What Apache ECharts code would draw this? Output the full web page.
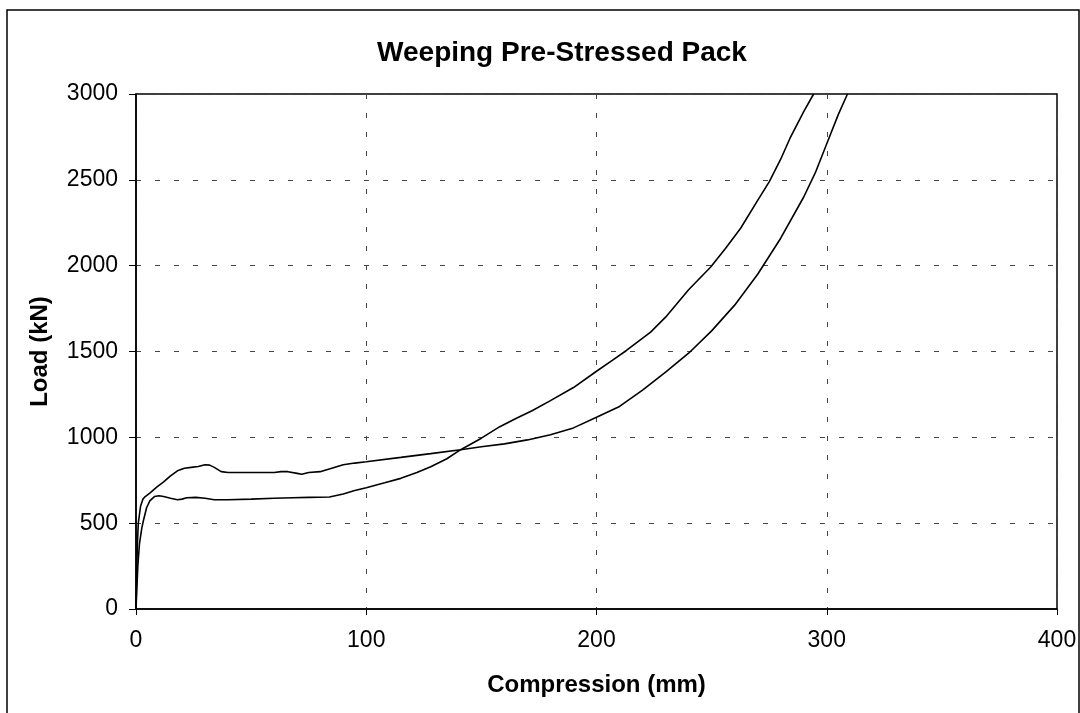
<!DOCTYPE html>
<html>
<head>
<meta charset="utf-8">
<script src="https://cdn.jsdelivr.net/npm/echarts@6/dist/echarts.min.js"></script>
<style>
html,body{margin:0;padding:0;background:#fff;}
#chart{width:1080px;height:713px;}
</style>
</head>
<body>
<div id="chart"></div>
<script>
// Curve A (higher early plateau, reaches 3000 kN near 309 mm)
const compA = [0, 0.3, 0.6, 1, 2, 3, 4, 6, 9, 12, 15, 18, 21, 24, 27, 30, 32, 34, 37, 40, 45, 50, 55, 60, 63, 66, 70, 72, 75, 80, 85, 90, 95, 100, 115, 128, 141, 150, 160, 170, 180, 190, 200, 210, 220, 230, 240, 250, 260, 270, 280, 290, 295, 300, 305, 309];
const loadA = [0, 200, 380, 500, 600, 640, 655, 675, 710, 740, 775, 805, 820, 825, 830, 840, 838, 825, 800, 795, 795, 795, 795, 795, 800, 800, 790, 785, 795, 800, 820, 840, 850, 858, 883, 905, 928, 945, 962, 985, 1015, 1055, 1117, 1180, 1275, 1380, 1490, 1620, 1770, 1950, 2160, 2400, 2540, 2710, 2880, 3000];

// Curve B (lower early plateau, reaches 3000 kN near 294 mm)
const compB = [0, 0.3, 0.8, 1.5, 2.5, 3.2, 4.6, 6, 8, 10, 12, 15, 18, 20, 22, 26, 30, 34, 40, 50, 60, 68, 75, 84, 90, 95, 100, 108, 115, 122, 128, 135, 141, 150, 158, 165, 172, 180, 190, 200, 207, 213, 223.5, 230, 240, 249.6, 256, 262.6, 270, 275, 280, 284, 290, 294.3];
const loadB = [0, 100, 250, 380, 470, 514, 590, 630, 655, 660, 655, 645, 636, 640, 648, 650, 645, 636, 636, 640, 645, 648, 650, 652, 670, 690, 706, 735, 761, 795, 829, 875, 928, 995, 1062, 1110, 1155, 1214, 1290, 1385, 1450, 1506, 1613, 1700, 1860, 1992, 2100, 2218, 2380, 2488, 2620, 2741, 2897, 3000];

const titleText = 'Weeping Pre-Stressed Pack';
const xName = 'Compression (mm)';
const yName = 'Load (kN)';

const pairs = (xs, ys) => xs.map((x, i) => [x, ys[i]]);
const FONT = '"Liberation Sans", Arial, sans-serif';
const gridLine = {show: true, lineStyle: {color: '#444', type: [5, 14], width: 1}};

const chart = echarts.init(document.getElementById('chart'), null, {renderer: 'canvas'});
chart.setOption({
  animation: false,
  backgroundColor: '#fff',
  title: {
    text: titleText, left: 557, top: 34, textAlign: 'center',
    textStyle: {fontFamily: FONT, fontSize: 28, fontWeight: 'bold', color: '#000'}
  },
  graphic: [{
    type: 'rect', shape: {x: 7, y: 10, width: 1072, height: 720},
    style: {fill: 'none', stroke: '#000', lineWidth: 1.5}, silent: true
  }],
  grid: {left: 136, right: 23, top: 94, bottom: 104, show: true, borderColor: '#000', borderWidth: 1.5, backgroundColor: 'transparent'},
  xAxis: {
    type: 'value', min: 0, max: 400, interval: 100,
    name: xName, nameLocation: 'middle', nameGap: 64,
    nameTextStyle: {fontFamily: FONT, fontSize: 24, fontWeight: 'bold', color: '#000'},
    axisLine: {show: true, lineStyle: {color: '#000', width: 1.5}},
    axisTick: {show: true, length: 6, lineStyle: {color: '#000'}},
    axisLabel: {fontFamily: FONT, fontSize: 23, color: '#000', margin: 20, formatter: v => String(v)},
    splitLine: gridLine
  },
  yAxis: {
    type: 'value', min: 0, max: 3000, interval: 500,
    name: yName, nameLocation: 'middle', nameGap: 84, nameRotate: 90,
    nameTextStyle: {fontFamily: FONT, fontSize: 24, fontWeight: 'bold', color: '#000'},
    axisLine: {show: true, lineStyle: {color: '#000', width: 1.5}},
    axisTick: {show: true, length: 7, lineStyle: {color: '#000'}},
    axisLabel: {fontFamily: FONT, fontSize: 23, color: '#000', margin: 18, formatter: v => String(v)},
    splitLine: gridLine
  },
  series: [
    {type: 'line', name: 'A', data: pairs(compA, loadA), showSymbol: false, symbol: 'none',
     lineStyle: {color: '#000', width: 1.6}, clip: true},
    {type: 'line', name: 'B', data: pairs(compB, loadB), showSymbol: false, symbol: 'none',
     lineStyle: {color: '#000', width: 1.6}, clip: true}
  ]
});
</script>
</body>
</html>
